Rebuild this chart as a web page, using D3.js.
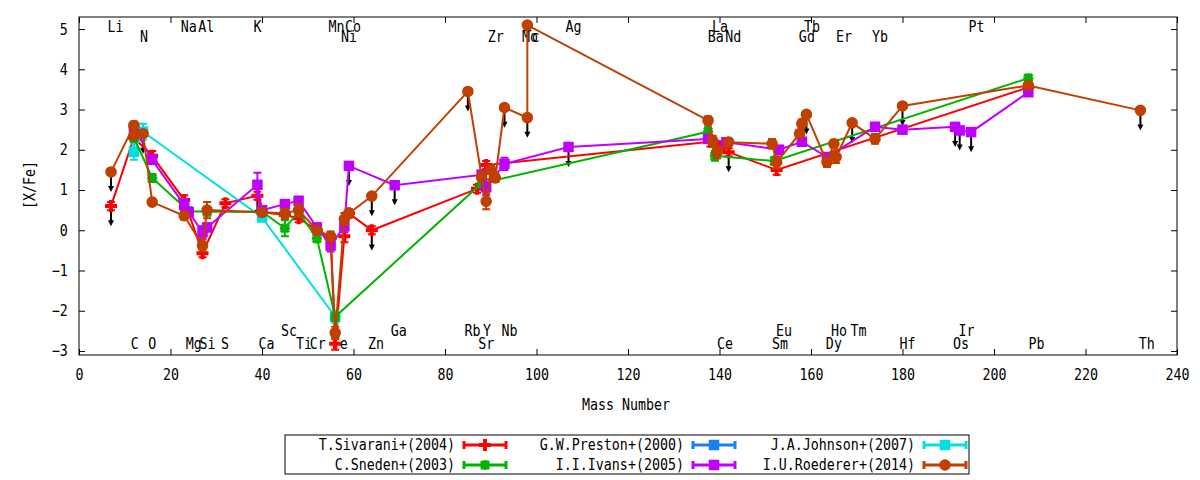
<!DOCTYPE html>
<html>
<head>
<meta charset="utf-8">
<script src="https://cdn.jsdelivr.net/npm/d3@7"></script>
<style>
body { margin: 0; background: #fff; }
svg text { font-family: "DejaVu Sans Mono", monospace; font-size: 15.5px; fill: #000; }
</style>
</head>
<body>
<svg class="chart" width="1200" height="480"></svg>
<script>
// ---- data ----
const seriesNames = ["T.Sivarani+(2004)", "G.W.Preston+(2000)", "J.A.Johnson+(2007)",
                     "C.Sneden+(2003)", "I.I.Ivans+(2005)", "I.U.Roederer+(2014)"];
const seriesColors = ["#ff0000", "#1a80f0", "#00e0e0", "#00b400", "#c000ff", "#c04000"];
const seriesMarkers = ["plus", "square", "square", "star", "square", "circle"];

// [mass number, [X/Fe], error]
const sivarani = [
  [7, 0.6, 0.1], [12, 2.3, 0.1], [16, 1.85, 0.12], [23, 0.75, 0.12], [27, -0.57, 0.1],
  [32, 0.67, 0.1], [39, 0.86, 0.1], [40, 0.45, 0.1], [45, 0.38, 0.1], [48, 0.3, 0.1],
  [52, 0.0, 0.1], [55, -0.2, 0.1], [56, -2.82, 0.15], [58, -0.15, 0.15], [59, 0.42, 0.1],
  [64, 0.0, 0.1], [87, 1.03, 0.1], [89, 1.62, 0.1], [138, 2.2, 0.12], [140, 2.05, 0.1],
  [142, 1.94, 0.1], [152.5, 1.5, 0.12], [207.5, 3.55, 0.08]
];
const preston = [];
const johnson = [
  [12, 1.95, 0.2], [14, 2.45, 0.2], [40, 0.32, 0.1], [56, -2.15, 0.15]
];
const sneden = [
  [12, 2.3, 0.1], [16, 1.3, 0.1], [24, 0.47, 0.1], [28, 0.46, 0.1], [40, 0.46, 0.1],
  [45, 0.05, 0.2], [48, 0.45, 0.1], [52, -0.2, 0.1], [56, -2.15, 0.1], [88, 1.17, 0.1],
  [137.5, 2.45, 0.12], [139, 1.85, 0.12], [152, 1.72, 0.1], [207.5, 3.78, 0.08]
];
const ivans = [
  [12, 2.56, 0.1], [16, 1.75, 0.1], [23, 0.63, 0.15], [24, 0.45, 0.1], [27, -0.05, 0.15],
  [28, 0.07, 0.1], [39, 1.13, 0.3], [40, 0.5, 0.1], [45, 0.65, 0.1], [48, 0.73, 0.1],
  [52, 0.07, 0.1], [55, -0.38, 0.15], [58, 0.1, 0.15], [59, 1.6, 0.08], [69, 1.12, 0.08],
  [88, 1.38, 0.1], [89, 1.07, 0.2], [93, 1.65, 0.15], [107, 2.07, 0.08], [137.5, 2.27, 0.1],
  [141.5, 2.19, 0.1], [153, 2.0, 0.1], [158, 2.2, 0.1], [163.5, 1.82, 0.1], [174, 2.57, 0.1],
  [180, 2.5, 0.1], [191.5, 2.57, 0.05], [192.5, 2.48, 0.05], [195, 2.44, 0.05], [207.5, 3.43, 0.08]
];
const roederer = [
  [7, 1.45, 0.05], [12, 2.6, 0.1], [12, 2.35, 0.1], [14, 2.4, 0.08], [16, 0.7, 0.05],
  [23, 0.36, 0.1], [27, -0.38, 0.15], [28, 0.5, 0.2], [40, 0.45, 0.1], [45, 0.42, 0.12],
  [48, 0.5, 0.15], [52, 0.0, 0.08], [55, -0.15, 0.12], [56, -2.55, 0.15], [58, 0.28, 0.15],
  [59, 0.42, 0.1], [64, 0.85, 0.05], [85, 3.45, 0.05], [88, 1.33, 0.1], [89, 0.72, 0.2],
  [90, 1.5, 0.1], [91, 1.3, 0.1], [93, 3.05, 0.05], [98, 2.8, 0.05], [98, 5.1, 0.05],
  [137.5, 2.73, 0.1], [138.5, 2.23, 0.12], [139.5, 1.94, 0.15], [142, 2.19, 0.08],
  [151.5, 2.15, 0.12], [152.5, 1.69, 0.15], [157.5, 2.4, 0.1], [158, 2.65, 0.1], [159, 2.88, 0.05],
  [163.5, 1.69, 0.12], [165, 2.15, 0.1], [165.5, 1.82, 0.15], [169, 2.67, 0.05], [174, 2.27, 0.12],
  [180, 3.09, 0.05], [207.5, 3.6, 0.05], [232, 2.98, 0.05]
];
// upper limits: [mass number, [X/Fe]]
const upperLimits = [
  [7, 1.45], [7, 0.6], [14, 2.4], [39, 0.86], [59, 1.6], [64, 0.85], [64, 0.0], [69, 1.12],
  [85, 3.45], [93, 3.05], [98, 2.8], [107, 2.07], [142, 1.94], [159, 2.88], [169, 2.67],
  [180, 3.09], [191.5, 2.57], [192.5, 2.48], [195, 2.44], [232, 2.98]
];

const xTicks = [0, 20, 40, 60, 80, 100, 120, 140, 160, 180, 200, 220, 240];
const yTicks = [-3, -2, -1, 0, 1, 2, 3, 4, 5];

// element labels, two rows at the top and two at the bottom
const labelsTopA = ["Li", "Na", "Al", "K", "Mn", "Co", "Ag", "La", "Tb", "Pt"];
const labelsTopAX = [8.0, 24.0, 27.8, 39.0, 56.3, 59.9, 108.1, 140.1, 160.2, 196.2];
const labelsTopB = ["N", "Ni", "Zr", "Mo", "Tc", "Ba", "Nd", "Gd", "Er", "Yb"];
const labelsTopBX = [14.2, 59.0, 91.1, 98.6, 98.9, 139.2, 143.0, 159.1, 167.2, 175.1];
const labelsBotA = ["Sc", "Ga", "Rb", "Y", "Nb", "Eu", "Ho", "Tm", "Ir"];
const labelsBotAX = [45.9, 69.9, 86.0, 89.2, 94.1, 154.1, 166.1, 170.4, 194.0];
const labelsBotB = ["C", "O", "Mg", "Si", "S", "Ca", "Ti", "Cr", "Fe", "Zn", "Sr", "Ce", "Sm",
                    "Dy", "Hf", "Os", "Pb", "Th"];
const labelsBotBX = [12.2, 16.0, 25.1, 28.1, 31.9, 41.0, 49.2, 52.2, 57.0, 64.9, 89.0, 141.2,
                     153.2, 165.0, 181.1, 192.8, 209.3, 233.4];

(function(){
    var svg = d3.select("svg.chart");
    var left = 79, right = 1177, top = 17, bottom = 355;
    var squeeze = "scale(0.86,1)";   // the gnuplot font is narrower than DejaVu

    var x = d3.scaleLinear().domain([0, 240]).range([left, right]);
    var y = d3.scaleLinear().domain([-3.1, 5.3]).range([bottom, top]);

    // same order as the legend (row by row)
    var all_series = [sivarani, preston, johnson, sneden, ivans, roederer];

    function add_text(g, px, py, str, anchor, rotate) {
        return g.append("text")
            .attr("transform", `translate(${px},${py})` + (rotate ? " rotate(-90)" : "") + " " + squeeze)
            .attr("text-anchor", anchor || "middle")
            .attr("dominant-baseline", "central")
            .text(str);
    }

    function marker_path(kind) {
        if (kind == "plus") return d3.symbol(d3.symbolCross, 80)();
        if (kind == "square") return d3.symbol(d3.symbolSquare, 110)();
        if (kind == "circle") return d3.symbol(d3.symbolCircle, 105)();
        return "M-5,0H5M0,-5V5M-4,-4L4,4M-4,4L4,-4";   // star
    }

    function draw_marker(g, kind, color, px, py) {
        var p = g.append("path")
            .attr("d", marker_path(kind))
            .attr("transform", `translate(${px},${py})`);
        if (kind == "star") p.attr("fill", "none").attr("stroke", color).attr("stroke-width", 3);
        else p.attr("fill", color);
    }

    // axes, ticks pointing inwards, mirrored on top and right
    var gx = svg.append("g").attr("transform", `translate(0,${bottom})`)
        .call(d3.axisBottom(x).tickValues(xTicks).tickSize(-6).tickPadding(14));
    svg.append("g").attr("transform", `translate(0,${top})`)
        .call(d3.axisTop(x).tickValues(xTicks).tickSize(-6).tickFormat(""));
    var gy = svg.append("g").attr("transform", `translate(${left},0)`)
        .call(d3.axisLeft(y).tickValues(yTicks).tickSize(-6).tickPadding(13));
    svg.append("g").attr("transform", `translate(${right},0)`)
        .call(d3.axisRight(y).tickValues(yTicks).tickSize(-6).tickFormat(""));
    svg.selectAll(".domain").remove();
    svg.selectAll(".tick line").attr("stroke", "#000");
    gx.selectAll("text").attr("transform", squeeze);
    gy.selectAll("text").attr("transform", squeeze);

    svg.append("rect")
        .attr("x", left).attr("y", top)
        .attr("width", right - left).attr("height", bottom - top)
        .attr("fill", "none").attr("stroke", "#000");

    add_text(svg, 30, 185, "[X/Fe]", "middle", true);
    add_text(svg, 626, 405, "Mass Number");

    // element names
    var lab = svg.append("g").attr("id", "elements");
    labelsTopA.forEach((s, i) => add_text(lab, x(labelsTopAX[i]), 26.5, s));
    labelsTopB.forEach((s, i) => add_text(lab, x(labelsTopBX[i]), 36.5, s));
    labelsBotA.forEach((s, i) => add_text(lab, x(labelsBotAX[i]), 331, s));
    labelsBotB.forEach((s, i) => add_text(lab, x(labelsBotBX[i]), 344, s));

    // upper limit arrows
    var arrows = svg.append("g").attr("id", "limits");
    upperLimits.forEach(function(d) {
        var px = x(d[0]), y0 = y(d[1]), y1 = y(d[1] - 0.5);
        arrows.append("line")
            .attr("x1", px).attr("x2", px).attr("y1", y0).attr("y2", y1 - 4)
            .attr("stroke", "#000").attr("stroke-width", 2);
        arrows.append("path")
            .attr("d", `M${px - 3},${y1 - 6}L${px + 3},${y1 - 6}L${px},${y1}Z`)
            .attr("fill", "#000");
    });

    // series: line, error bars, markers
    var line = d3.line().x(d => x(d[0])).y(d => y(d[1]));
    all_series.forEach(function(data, k) {
        var color = seriesColors[k];
        var g = svg.append("g").attr("class", "series");
        if (!data.length) return;
        g.append("path")
            .attr("d", line(data))
            .attr("fill", "none").attr("stroke", color).attr("stroke-width", 2);
        g.selectAll("path.err")
            .data(data)
            .enter().append("path")
            .attr("class", "err")
            .attr("d", function(d) {
                var px = x(d[0]), ya = y(d[1] + d[2]), yb = y(d[1] - d[2]);
                return `M${px - 4},${ya}H${px + 4}M${px},${ya}V${yb}M${px - 4},${yb}H${px + 4}`;
            })
            .attr("fill", "none").attr("stroke", color).attr("stroke-width", 2);
        data.forEach(d => draw_marker(g, seriesMarkers[k], color, x(d[0]), y(d[1])));
    });

    // legend, filled row by row
    var leg = svg.append("g").attr("id", "legend");
    leg.append("rect")
        .attr("x", 285).attr("y", 435).attr("width", 684).attr("height", 39)
        .attr("fill", "#fff").attr("stroke", "#000");
    var colEnd = [455, 684, 915], rowY = [445, 465];
    seriesNames.forEach(function(name, k) {
        var cx = colEnd[k % 3], cy = rowY[Math.floor(k / 3)], color = seriesColors[k];
        add_text(leg, cx, cy, name, "end");
        var x1 = cx + 9, x2 = cx + 51;
        leg.append("path")
            .attr("d", `M${x1},${cy}H${x2}M${x1},${cy - 4}V${cy + 4}M${x2},${cy - 4}V${cy + 4}`)
            .attr("fill", "none").attr("stroke", color).attr("stroke-width", 3);
        draw_marker(leg, seriesMarkers[k], color, (x1 + x2) / 2, cy);
    });
})();
</script>
</body>
</html>
